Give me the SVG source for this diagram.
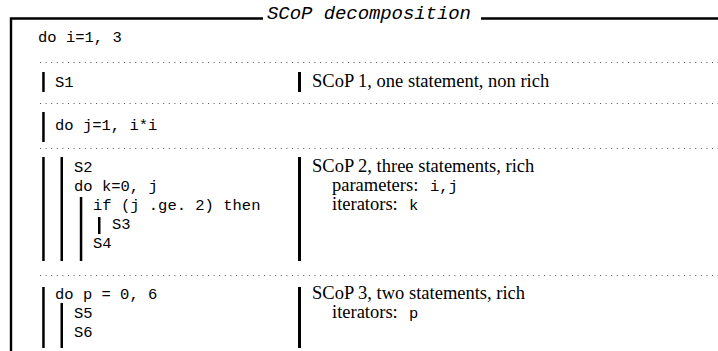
<svg xmlns="http://www.w3.org/2000/svg" width="718" height="351" viewBox="0 0 718 351">
<style>
.m{font-family:"Liberation Mono","Courier New",monospace;font-size:15.5px;fill:#000}
.s{font-family:"Liberation Serif","Times New Roman",serif;font-size:18.5px;fill:#000}
.t{font-family:"Liberation Mono","Courier New",monospace;font-size:19px;font-style:italic;fill:#000}
.bar{fill:#000}
.dot{stroke:#555;stroke-width:1;stroke-dasharray:1 4.6;fill:none}
.frame{stroke:#000;stroke-width:2.4;fill:none}
</style>
<rect width="718" height="351" fill="#fff"/>
<g id="frame">
<path class="frame" d="M11,351 V18.5 H263 M481,18.5 H718"/>
<text class="t" x="267" y="19" textLength="204">SCoP decomposition</text>
</g>
<g id="separators">
<line class="dot" x1="40" y1="62.5" x2="718" y2="62.5"/>
<line class="dot" x1="40" y1="103.5" x2="718" y2="103.5"/>
<line class="dot" x1="40" y1="148.5" x2="718" y2="148.5"/>
<line class="dot" x1="40" y1="275.5" x2="718" y2="275.5"/>
</g>
<g id="sec0">
<text class="m" x="38" y="42">do i=1, 3</text>
</g>
<g id="sec1">
<rect class="bar" x="42.2" y="72" width="2.5" height="20"/>
<text class="m" x="55" y="87">S1</text>
<rect class="bar" x="298" y="72" width="3" height="20"/>
<text class="s" x="312" y="87">SCoP 1, one statement, non rich</text>
</g>
<g id="sec2">
<rect class="bar" x="42.2" y="112" width="2.5" height="30"/>
<text class="m" x="55" y="130">do j=1, i*i</text>
</g>
<g id="sec3">
<rect class="bar" x="42.2" y="157" width="2.5" height="104"/>
<rect class="bar" x="60.5" y="157" width="2.5" height="104"/>
<rect class="bar" x="79.8" y="197" width="2.5" height="64"/>
<rect class="bar" x="98" y="217" width="2.5" height="17"/>
<text class="m" x="74" y="172">S2</text>
<text class="m" x="74" y="191">do k=0, j</text>
<text class="m" x="93" y="210">if (j .ge. 2) then</text>
<text class="m" x="112" y="229">S3</text>
<text class="m" x="93" y="248">S4</text>
<rect class="bar" x="298" y="157" width="3" height="104"/>
<text class="s" x="312" y="172">SCoP 2, three statements, rich</text>
<text class="s" x="332" y="191">parameters:</text>
<text class="m" x="430" y="191">i,j</text>
<text class="s" x="332" y="210">iterators:</text>
<text class="m" x="409" y="210">k</text>
</g>
<g id="sec4">
<rect class="bar" x="42.2" y="287" width="2.5" height="61"/>
<rect class="bar" x="60.5" y="303" width="2.5" height="45"/>
<text class="m" x="55" y="299">do p = 0, 6</text>
<text class="m" x="74" y="318">S5</text>
<text class="m" x="74" y="337">S6</text>
<rect class="bar" x="298" y="287" width="3" height="61"/>
<text class="s" x="312" y="299">SCoP 3, two statements, rich</text>
<text class="s" x="332" y="318">iterators:</text>
<text class="m" x="409" y="318">p</text>
</g>
</svg>
